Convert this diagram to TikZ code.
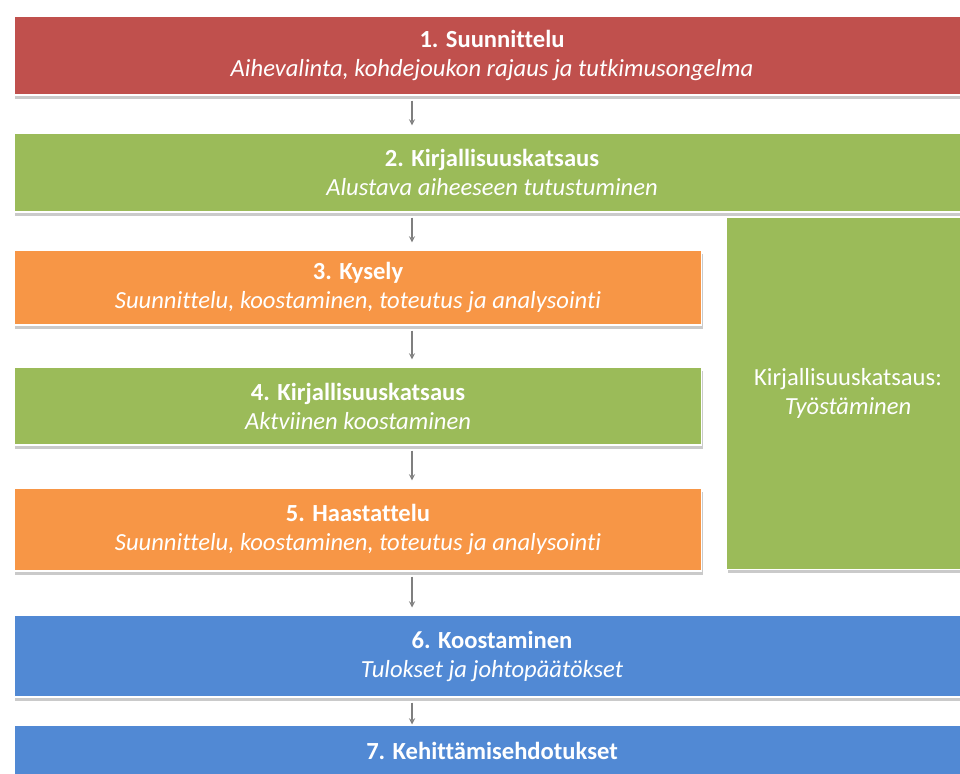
\documentclass[tikz,border=0pt]{standalone}
\usepackage{fontspec}
\setmainfont{Carlito}[Ligatures=NoCommon]
\usetikzlibrary{shadows}
\definecolor{vaihepunainen}{HTML}{C0504D}
\definecolor{vaihevihrea}{HTML}{9BBB59}
\definecolor{vaiheoranssi}{HTML}{F79646}
\definecolor{vaihesininen}{HTML}{5189D4}
\definecolor{nuolenharmaa}{HTML}{7F7F7F}

\begin{document}
\begin{tikzpicture}[x=0.02cm,y=-0.02cm,
	box/.style={draw=white,line width=0.6pt,inner sep=0pt,align=center,text=white,
		font=\fontsize{14}{16.5}\selectfont,
		drop shadow={shadow xshift=0.6pt,shadow yshift=-2pt,opacity=0.35,fill=black!60}},
	flow/.style={-stealth,nuolenharmaa,line width=0.6pt,shorten <=0.1cm,shorten >=0.14cm}]
			\useasboundingbox (0,0) rectangle (960,774);
			
			\node[box,fill=vaihepunainen,minimum width=19.12cm,minimum height=1.58cm] (v1) at (492,55.5)
				{\textbf{1. Suunnittelu}\\\textit{Aihevalinta, kohdejoukon rajaus ja tutkimusongelma}};
			\node[box,fill=vaihevihrea,minimum width=19.12cm,minimum height=1.58cm] (v2) at (492,172.5)
				{\textbf{2. Kirjallisuuskatsaus}\\\textit{Alustava aiheeseen tutustuminen}};
			\node[box,fill=vaihevihrea,minimum width=4.86cm,minimum height=7.06cm] (tyo) at (848,393.5)
				{Kirjallisuuskatsaus:\\\textit{Työstäminen}};
			\node[box,fill=vaiheoranssi,minimum width=13.76cm,minimum height=1.5cm] (v3) at (358,287.5)
				{\textbf{3. Kysely}\\\textit{Suunnittelu, koostaminen, toteutus ja analysointi}};
			\node[box,fill=vaihevihrea,minimum width=13.76cm,minimum height=1.56cm] (v4) at (358,406)
				{\textbf{4. Kirjallisuuskatsaus}\\\textit{Aktviinen koostaminen}};
			\node[box,fill=vaiheoranssi,minimum width=13.76cm,minimum height=1.66cm] (v5) at (358,529.5)
				{\textbf{5. Haastattelu}\\\textit{Suunnittelu, koostaminen, toteutus ja analysointi}};
			\node[box,fill=vaihesininen,minimum width=19.12cm,minimum height=1.64cm] (v6) at (492,656)
				{\textbf{6. Koostaminen}\\\textit{Tulokset ja johtopäätökset}};
			\node[box,fill=vaihesininen,minimum width=19.12cm,minimum height=1.6cm] (v7) at (492,765)
				{\textbf{7. Kehittämisehdotukset}\\\mbox{}};
			
			\coordinate (nx) at (412,0);
			\draw[flow] (v1.south -| nx) -- (v2.north -| nx);
			\draw[flow] (v2.south -| nx) -- (v3.north -| nx);
			\draw[flow] (v3.south -| nx) -- (v4.north -| nx);
			\draw[flow] (v4.south -| nx) -- (v5.north -| nx);
			\draw[flow] (v5.south -| nx) -- (v6.north -| nx);
			\draw[flow,shorten >=0cm] (v6.south -| nx) -- (v7.north -| nx);
		\end{tikzpicture}
\end{document}
